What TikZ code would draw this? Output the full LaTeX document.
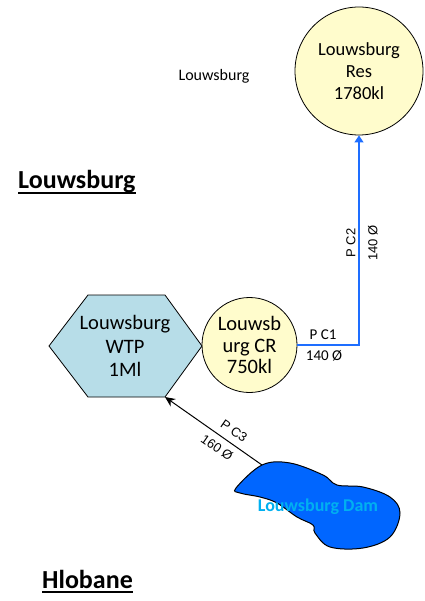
\documentclass[tikz,border=0pt]{standalone}
\usepackage{fontspec}
\setmainfont{Carlito}
\newfontfamily\arialf{Liberation Sans}
\usetikzlibrary{arrows.meta}
\definecolor{resfill}{RGB}{255,252,204}
\definecolor{wtpfill}{RGB}{183,221,232}
\definecolor{pipeblue}{RGB}{30,110,255}
\definecolor{damblue}{RGB}{0,102,255}
\definecolor{damtext}{RGB}{0,176,240}
\begin{document}
\begin{tikzpicture}[x=1pt,y=-1pt,
  reservoir/.style={circle,draw=black,fill=resfill,inner sep=0pt,align=center,line width=0.8pt},
  pipe/.style={draw=pipeblue,line width=1.3pt,-{Triangle[length=7pt,width=9pt]}},
  rawpipe/.style={draw=black,line width=1pt,-{Stealth[length=10pt,width=9pt]}},
  heading/.style={anchor=base west,inner sep=0pt,font=\fontsize{26}{30}\selectfont\bfseries},
  pipelbl/.style={inner sep=0pt,font=\fontsize{15}{18}\selectfont},
  rotlbl/.style={inner sep=0pt,font=\arialf\fontsize{13}{15}\selectfont}
]
\useasboundingbox (0,0) rectangle (424,601);

% reservoirs
\node[reservoir, minimum size=128pt, font=\fontsize{18.5}{22}\selectfont] (res) at (359,71) {Louwsburg\\Res\\1780kl};
\node[reservoir, minimum size=95pt, font=\fontsize{20.5}{21.7}\selectfont] (cr) at (249.5,345) {Louwsb\\urg CR\\750kl};

% WTP hexagon
\draw[fill=wtpfill,line width=0.8pt] (49,346) -- (88,295) -- (165,295) -- (202,346) -- (165,397) -- (88,397) -- cycle;
\node[align=center, inner sep=0pt, font=\fontsize{20.5}{23.3}\selectfont] (wtp) at (125,346) {Louwsburg\\WTP\\1Ml};
\coordinate (wtpbr) at (165,397);

% labels
\node[inner sep=0pt, font=\fontsize{16}{19}\selectfont] (lbl) at (214,76) {Louwsburg};
\node[heading] (h1) at (18,189) {Louwsburg};
\draw[line width=1.3pt] ([yshift=-4pt]h1.base west) -- ([yshift=-4pt]h1.base east);
\node[heading] (h2) at (42,588) {Hlobane};
\draw[line width=1.3pt] ([yshift=-4pt]h2.base west) -- ([yshift=-4pt]h2.base east);

% pipes
\draw[pipe] (cr.east) -| (res.south);
\node[pipelbl] (pc1) at (323,335) {P C1};
\node[pipelbl] (pc1d) at (324,356) {140 Ø};
\node[rotlbl, rotate=90] (pc2) at (351,243) {P C2};
\node[rotlbl, rotate=90] (pc2d) at (373,243) {140 Ø};

% dam
\draw[fill=damblue, line width=1pt] plot[smooth cycle, tension=0.6] coordinates {(236,488) (262,465) (290,463) (323,475) (337,485) (363,487) (390,497) (400,513) (390,537) (363,548) (330,547) (315,533) (313,525) (297,517) (277,503) (260,497) (240,493)};
\coordinate (damtop) at (262,465);
\node[inner sep=0pt, text=damtext, font=\fontsize{18}{21}\selectfont\bfseries] (damlbl) at (318,507) {Louwsburg Dam};

\draw[rawpipe] (damtop) -- (wtpbr);
\node[rotlbl, rotate=-34.6] (pc3) at (234,431) {P C3};
\node[rotlbl, rotate=-34.6] (pc3d) at (217,448) {160 Ø};
\end{tikzpicture}
\end{document}
